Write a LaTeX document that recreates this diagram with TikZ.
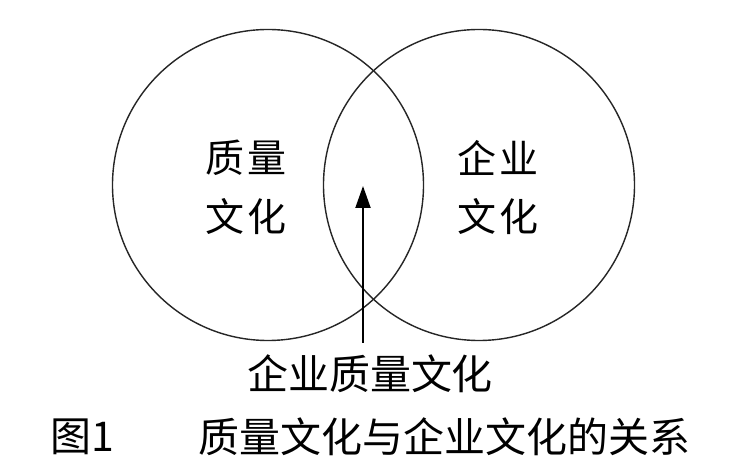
\documentclass[tikz,border=0pt]{standalone}
\usepackage{fontspec}
\newfontfamily\cjk{Noto Sans CJK SC}
\usetikzlibrary{arrows.meta}
\begin{document}
\begin{tikzpicture}[x=1pt,y=-1pt,
  ring/.style={circle,draw=black!85,line width=1.4pt,minimum size=311pt,inner sep=0pt},
  intext/.style={inner sep=0pt,font=\cjk\fontsize{39}{44}\selectfont},
  bigtext/.style={inner sep=0pt,font=\cjk\fontsize{41}{48}\selectfont},
  arr/.style={-{Triangle[length=22pt,width=15pt]},line width=2pt,black}]
\useasboundingbox[fill=white] (0,0) rectangle (732,462);
\node[ring] (L) at (268,185) {};
\node[ring] (R) at (479,185) {};
\node[intext] (q1) at (246,158) {质\kern4pt 量};
\node[intext] (q2) at (246,217) {文\kern4pt 化};
\node[intext] (e1) at (498,158) {企\kern4pt 业};
\node[intext] (e2) at (498,217) {文\kern4pt 化};
\node[bigtext] (bl) at (370,374) {企业质量文化};
\coordinate (ab) at (363,343);
\coordinate (at) at (363,186);
\draw[arr] (ab) -- (at);
\node[bigtext,anchor=west] (fig) at (50,437) {图1};
\node[bigtext,anchor=west] (cap) at (198,437) {质量文化与企业文化的关系};
\end{tikzpicture}
\end{document}
